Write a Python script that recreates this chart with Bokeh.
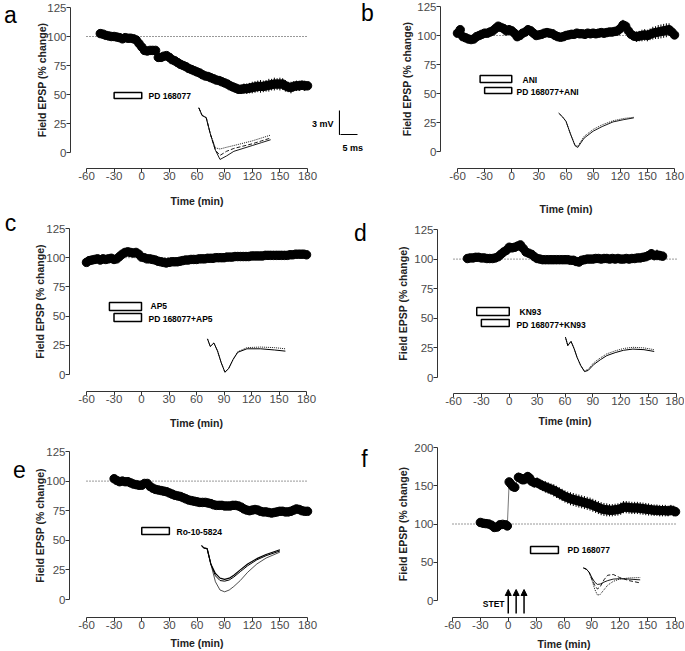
from bokeh.plotting import figure
from bokeh.layouts import column, row
from bokeh.models import Range1d, Label, Arrow, NormalHead, FixedTicker
from bokeh.embed import file_html
from bokeh.resources import INLINE

# ---------------- data ----------------
XTICKS = [-60, -30, 0, 30, 60, 90, 120, 150, 180]
YTICKS_125 = [0, 25, 50, 75, 100, 125]
YTICKS_200 = [0, 50, 100, 150, 200]
BASE_T = [-60, 180]
BASE_LEVEL = 100

# panel a : PD 168077
a_time = [-45, -42, -39, -36, -33, -30, -27, -24, -21, -18,
          -15, -12, -9, -6, -3, 0, 3, 6, 9, 12,
          15, 18, 21, 24, 27, 30, 33, 36, 39, 42,
          45, 48, 51, 54, 57, 60, 63, 66, 69, 72,
          75, 78, 81, 84, 87, 90, 93, 96, 99, 102,
          105, 108, 111, 114, 117, 120, 123, 126, 129, 132,
          135, 138, 141, 144, 147, 150, 153, 156, 159, 162,
          165, 168, 171, 174, 177, 180]
a_epsp = [102.5, 102, 101, 100.5, 100, 100, 99.5, 99, 98, 99,
          98.5, 98.5, 98, 97, 94, 91, 88, 87.5, 88, 88,
          88, 82, 82, 83, 83.5, 82, 80, 79, 77.5, 76,
          75, 74, 72.5, 71.5, 70.5, 69.5, 68.5, 67, 66, 65.5,
          64.5, 63.5, 62.5, 62, 61, 60, 59, 57.5, 56.5, 55.5,
          54.5, 54.5, 55, 55, 55.5, 56, 56.5, 57, 57, 57,
          57.5, 58, 58.5, 59, 59, 59, 59, 57.5, 56.5, 56,
          57, 57.5, 57.5, 58, 57.5, 57.5]
a_sem = [1.5, 1.5, 1.5, 1.5, 1.5, 1.5, 1.5, 1.5, 1.5, 1.5,
         1.5, 1.5, 1.5, 1.5, 2, 2, 2, 2, 2, 2,
         2, 2, 2, 2, 2, 2, 2, 2, 2, 2,
         2.5, 2.5, 2.5, 2.5, 2.5, 2.5, 2.5, 3, 3, 3,
         3, 3, 3, 3, 3, 3.5, 3.5, 3.5, 3.5, 4,
         4, 4, 4.5, 4.5, 4.5, 5, 5, 5, 5.5, 5,
         5, 5.5, 5, 5.5, 5, 5.5, 5, 5, 4.5, 5,
         4.5, 4.5, 4.5, 4, 4.5, 3.5]

# panel b : ANI / PD 168077+ANI
b_time = [-60, -57, -54, -51, -48, -45, -42, -39, -36, -33,
          -30, -27, -24, -21, -18, -15, -12, -9, -6, -3,
          0, 3, 6, 9, 12, 15, 18, 21, 24, 27,
          30, 33, 36, 39, 42, 45, 48, 51, 54, 57,
          60, 63, 66, 69, 72, 75, 78, 81, 84, 87,
          90, 93, 96, 99, 102, 105, 108, 111, 114, 117,
          120, 123, 126, 129, 132, 135, 138, 141, 144, 147,
          150, 153, 156, 159, 162, 165, 168, 171, 174, 177,
          180]
b_epsp = [102, 105, 99, 98, 97, 96.5, 97, 99, 100, 101,
          102, 102, 103, 104, 106, 108, 107, 106, 104, 105,
          104, 102, 99, 100, 102, 103, 105, 104, 102, 100,
          100.5, 101, 102, 102.5, 102, 101.5, 100, 99, 98.5, 99,
          100, 100.5, 101, 101, 102, 101.5, 101.5, 101, 102, 101.5,
          102, 101.5, 102, 102.5, 102, 102.5, 103, 103, 103.5, 104,
          106, 109, 108, 104, 101, 99.5, 99, 99.5, 100, 100.5,
          100, 101, 102, 102.5, 103, 103.5, 104, 104.5, 105, 103,
          100.5]
b_sem = [1.5, 1.5, 1.5, 1.5, 1.5, 1.5, 1.5, 1.5, 1.5, 1.5,
         2, 2, 2, 2, 2.5, 3, 3, 3, 2.5, 2.5,
         2.5, 2.5, 2.5, 2.5, 2.5, 2.5, 2.5, 2.5, 2.5, 2.5,
         2.5, 2.5, 2.5, 2.5, 2.5, 2.5, 2.5, 2.5, 2.5, 2.5,
         3, 3, 3, 3, 3, 3, 3, 3, 3, 3,
         3, 3, 3, 3, 3.5, 3.5, 3.5, 3.5, 3.5, 4,
         4, 4.5, 4.5, 4, 4, 4, 4.5, 4.5, 5, 5,
         5, 5, 5.5, 5.5, 6, 6, 6, 6, 5.5, 5,
         3]

# panel c : AP5 / PD 168077+AP5
c_time = [-60, -57, -54, -51, -48, -45, -42, -39, -36, -33,
          -30, -27, -24, -21, -18, -15, -12, -9, -6, -3,
          0, 3, 6, 9, 12, 15, 18, 21, 24, 27,
          30, 33, 36, 39, 42, 45, 48, 51, 54, 57,
          60, 63, 66, 69, 72, 75, 78, 81, 84, 87,
          90, 93, 96, 99, 102, 105, 108, 111, 114, 117,
          120, 123, 126, 129, 132, 135, 138, 141, 144, 147,
          150, 153, 156, 159, 162, 165, 168, 171, 174, 177,
          180]
c_epsp = [96, 97.5, 98, 98.5, 99, 98, 99, 98.5, 99, 99.5,
          98.5, 99, 101, 103, 104.5, 105, 104.5, 104, 104.5, 103,
          100.5, 100, 99, 99, 98.5, 98, 97, 96.5, 96, 95.5,
          96, 96.5, 96.5, 96.5, 97, 97.5, 98, 98, 98.5, 98.5,
          98.5, 99, 99, 99, 99.5, 99.5, 99.5, 100, 100, 100,
          100, 100.5, 100.5, 100.5, 101, 101, 101, 101, 101, 101,
          101.5, 101.5, 101.5, 101.5, 101.5, 102, 102, 102, 102, 102,
          102, 102, 102, 102, 102.5, 102.5, 103, 103, 103, 103,
          102.5]
c_sem = [1.5, 1.5, 1.5, 1.5, 1.5, 1.5, 1.5, 1.5, 1.5, 1.5,
         1.5, 1.5, 1.5, 2, 2, 2, 2, 2, 2, 2,
         1.5, 1.5, 1.5, 1.5, 1.5, 1.5, 1.5, 1.5, 1.5, 1.5,
         1.5, 1.5, 1.5, 1.5, 1.5, 1.5, 1.5, 1.5, 1.5, 1.5,
         1.5, 1.5, 1.5, 1.5, 1.5, 1.5, 1.5, 1.5, 1.5, 1.5,
         2, 2, 2, 2, 2, 2, 2, 2, 2, 2,
         2, 2, 2, 2, 2, 2, 2, 2, 2, 2,
         2, 2, 2.5, 2.5, 2.5, 2.5, 2.5, 2.5, 2.5, 2.5,
         2]

# panel d : KN93 / PD 168077+KN93
d_time = [-45, -42, -39, -36, -33, -30, -27, -24, -21, -18,
          -15, -12, -9, -6, -3, 0, 3, 6, 9, 12,
          15, 18, 21, 24, 27, 30, 33, 36, 39, 42,
          45, 48, 51, 54, 57, 60, 63, 66, 69, 72,
          75, 78, 81, 84, 87, 90, 93, 96, 99, 102,
          105, 108, 111, 114, 117, 120, 123, 126, 129, 132,
          135, 138, 141, 144, 147, 150, 153, 156, 159, 162,
          165]
d_epsp = [100.5, 101, 101, 101.5, 101.5, 101, 101, 100.5, 100.5, 100.5,
          101, 102, 104, 106, 107.5, 110, 109.5, 110, 111, 112,
          109, 106, 105, 104, 102, 100.5, 100, 99.5, 99.5, 99.5,
          99.5, 99.5, 99.5, 99.5, 99.5, 99.5, 99.5, 99, 99, 98,
          97.5, 99, 99.5, 100, 100, 100, 100.5, 100.5, 100, 100.5,
          100.5, 100, 100.5, 100, 100.5, 100, 100, 100.5, 100, 100.5,
          100.5, 101, 101, 101.5, 102, 103, 104.5, 103, 103.5, 103,
          102.5]
d_sem = [1.5, 1.5, 1.5, 1.5, 1.5, 1.5, 1.5, 1.5, 1.5, 1.5,
         1.5, 2, 2, 2.5, 2.5, 2.5, 2.5, 2.5, 2.5, 2.5,
         2.5, 2.5, 2, 2, 2, 1.5, 1.5, 1.5, 1.5, 1.5,
         1.5, 1.5, 1.5, 1.5, 1.5, 1.5, 1.5, 1.5, 1.5, 1.5,
         1.5, 1.5, 1.5, 1.5, 1.5, 1.5, 1.5, 1.5, 1.5, 1.5,
         1.5, 1.5, 1.5, 1.5, 1.5, 1.5, 1.5, 1.5, 1.5, 1.5,
         1.5, 2, 2, 2, 2.5, 3, 4, 4, 4.5, 4,
         3.5]

# panel e : Ro-10-5824
e_time = [-30, -27, -24, -21, -18, -15, -12, -9, -6, -3,
          0, 3, 6, 9, 12, 15, 18, 21, 24, 27,
          30, 33, 36, 39, 42, 45, 48, 51, 54, 57,
          60, 63, 66, 69, 72, 75, 78, 81, 84, 87,
          90, 93, 96, 99, 102, 105, 108, 111, 114, 117,
          120, 123, 126, 129, 132, 135, 138, 141, 144, 147,
          150, 153, 156, 159, 162, 165, 168, 171, 174, 177,
          180]
e_epsp = [102, 100.5, 99.5, 100, 99.5, 99.5, 98.5, 97.5, 97, 96.5,
          96.5, 98, 98, 95.5, 94, 93, 92.5, 92, 91.5, 91,
          90, 89, 88, 87.5, 87, 86, 85, 84, 83.5, 83,
          82.5, 82, 82, 82, 81.5, 81, 80, 79.5, 79.5, 79.5,
          79, 79, 79, 79.5, 79.5, 79, 78, 76.5, 75.5, 75,
          75.5, 76, 75.5, 74.5, 74, 74, 73.5, 73, 73.5, 74,
          74.5, 74.5, 74, 74, 74.5, 75.5, 76.5, 76, 75, 74.5,
          74.5]
e_sem = [1.5, 1.5, 1.5, 1.5, 1.5, 1.5, 1.5, 1.5, 1.5, 1.5,
         1.5, 1.5, 1.5, 1.5, 1.5, 1.5, 1.5, 1.5, 1.5, 1.5,
         2, 2, 2, 2, 2, 2, 2, 2, 2, 2,
         2, 2, 2, 2, 2, 2, 2, 2, 2, 2,
         2, 2, 2, 2, 2, 2, 2, 2, 2, 2,
         2, 2, 2, 2, 2, 2, 2, 2, 2, 2,
         2, 2, 2, 2, 2, 2, 2, 2, 2, 2,
         1.5]

# panel f : STET + PD 168077
f_time = [-30, -27, -24, -21, -18, -15, -12, -9, -6, -3,
          -1, 1, 3, 5, 7, 11, 13, 15, 17, 19,
          21, 23, 25, 28, 31, 34, 37, 40, 43, 46,
          49, 52, 55, 58, 61, 64, 67, 70, 73, 76,
          79, 82, 85, 88, 91, 94, 97, 100, 103, 106,
          109, 112, 115, 118, 121, 124, 127, 130, 133, 136,
          139, 142, 145, 148, 151, 154, 157, 160, 163, 166,
          169, 172, 175, 178, 180]
f_epsp = [102, 101, 100.5, 100, 98.5, 95.5, 96, 99, 99.5, 99,
          97.5, 155, 152, 149, 148, 161, 160, 158, 158, 160,
          162, 160, 156, 154, 154, 152, 150, 148.5, 147, 145.5,
          144, 142, 140, 138, 136, 134.5, 133, 132, 131, 130,
          129, 128, 127, 126, 124.5, 123, 121.5, 120, 119, 118.5,
          118, 118, 118.5, 119, 120, 122, 122, 121.5, 121, 121,
          121, 120.5, 120, 119.5, 119, 118.5, 118, 118, 117.5, 117.5,
          117.5, 117, 118, 117, 116]
f_sem = [2, 2, 2, 2, 2, 2.5, 2.5, 2, 2, 2,
         2, 5, 5, 5, 5, 6, 6, 6, 6, 6,
         6, 6, 6.5, 6.5, 7, 7, 7, 7.5, 7.5, 7.5,
         8, 8, 8, 8, 8, 8, 8.5, 8.5, 8.5, 8.5,
         8.5, 8.5, 8.5, 8.5, 8.5, 8.5, 8.5, 8.5, 8.5, 8.5,
         8, 8, 8, 8, 8, 8, 8, 8, 8, 8,
         8, 8, 8, 8, 8, 7.5, 7.5, 7.5, 7.5, 7.5,
         7.5, 7, 7, 7, 4]
f_stet_times = [0, 8.5, 17]

# drug application periods (min)
a_drugs = [("PD 168077", -30, 0)]
b_drugs = [("ANI", -35, 0), ("PD 168077+ANI", -30, 0)]
c_drugs = [("AP5", -35, 0), ("PD 168077+AP5", -30, 0)]
d_drugs = [("KN93", -35, 0), ("PD 168077+KN93", -30, 0)]
e_drugs = [("Ro-10-5824", 0, 30)]
f_drugs = [("PD 168077", 24, 54)]

# example fEPSP traces (inset, drawn in the panel's own units)
a_trace_t = [62, 65.5, 70, 74.5, 80, 85, 92, 100, 110, 120, 130, 140]
a_trace_1 = [38.5, 32, 30, 16, 2, -6, -3, 1, 3.5, 6, 8.5, 11]
a_trace_2 = [38.5, 32, 30, 16, 2, -2.5, 1, 3.5, 5.5, 7.5, 10, 12.5]
a_trace_3 = [38.5, 32, 30, 16, 4, 3, 4.5, 6, 8, 10, 12.5, 15]

b_trace_t = [52, 56, 60, 65, 70, 73, 80, 90, 100, 112, 124, 135]
b_trace_1 = [33, 30, 26, 15, 5, 3.5, 11.5, 17.5, 21.5, 25.5, 27.5, 29]
b_trace_2 = [33, 30, 26, 15, 5.5, 4.5, 13, 19, 23, 26.5, 28.5, 29.5]

c_trace_t = [72, 75, 79, 83, 87, 91, 95, 100, 105, 115, 130, 145, 157]
c_trace_1 = [30.5, 24, 27, 20, 10, 2, 5, 13, 19, 22, 22, 21, 20]
c_trace_2 = [30.5, 24, 27, 20, 10, 2, 5, 13, 19.5, 23, 23.5, 23, 22]

d_trace_t = [60.5, 63, 66.5, 70, 73, 77, 81, 85, 91, 98, 105, 114, 123, 133, 145, 156]
d_trace_1 = [34, 27, 30.5, 24, 17, 10, 5, 6, 11, 15, 18.5, 21, 23, 24, 23.5, 22]
d_trace_2 = [34, 27, 30.5, 24, 17, 10, 5.5, 7, 12.5, 16.5, 20, 22.5, 24.5, 25.5, 25, 23.5]

e_trace_t = [65, 67.5, 71, 75, 80, 85, 90, 95, 100, 107, 115, 125, 135, 150]
e_trace_1 = [45.5, 43.5, 43, 30, 22, 18, 17, 18, 20.5, 25, 30, 34.5, 38, 42]
e_trace_2 = [45.5, 43.5, 43, 30, 20, 16, 15.5, 16.5, 19, 23.5, 28.5, 33.5, 37, 41]
e_trace_3 = [45.5, 43.5, 43, 30, 15, 8, 6.5, 8, 11, 16, 23, 30, 35, 40]

f_trace_t = [81, 84, 87, 90, 93, 96, 99, 103, 107, 113, 120, 130, 142]
f_trace_1 = [42.5, 41, 37, 30, 24, 21, 21.5, 24, 26, 28, 28.5, 28, 27]
f_trace_2 = [42.5, 41, 37, 28, 20, 15, 18, 27, 33, 34, 30, 26, 23]
f_trace_3 = [42.5, 41, 37, 27, 15, 7, 8, 14, 20, 25, 28, 29.5, 30]

# ---------------- layout helpers ----------------
FONT = "Liberation Sans"


def make_panel(fig_box, axes_px, xcal, ycal, yticks, xlab_standoff, ylab_standoff):
    """fig_box: figure box in page px; axes_px: (x of y-axis, y of x-axis);
    xcal / ycal: two (pixel, value) calibration pairs."""
    fx0, fy0, fx1, fy1 = fig_box
    ax_x, ax_y = axes_px
    (xp0, xv0), (xp1, xv1) = xcal
    (yp0, yv0), (yp1, yv1) = ycal
    sx = (xp1 - xp0) / (xv1 - xv0)
    sy = (yp0 - yp1) / (yv1 - yv0)

    def X(px):
        return xv0 + (px - xp0) / sx

    def Y(py):
        return yv0 + (yp0 - py) / sy

    p = figure(width=fx1 - fx0, height=fy1 - fy0,
               x_range=Range1d(X(fx0), X(fx1)), y_range=Range1d(Y(fy1), Y(fy0)),
               min_border_left=0, min_border_right=0, min_border_top=0, min_border_bottom=0,
               output_backend="svg", toolbar_location=None)
    p.xgrid.visible = False
    p.ygrid.visible = False
    p.outline_line_color = None
    p.background_fill_color = "white"
    p.border_fill_color = "white"
    p.xaxis.fixed_location = Y(ax_y)
    p.yaxis.fixed_location = X(ax_x)
    p.xaxis.bounds = (XTICKS[0], XTICKS[-1])
    p.xaxis.ticker = FixedTicker(ticks=XTICKS)
    p.xaxis.major_label_overrides = {t: str(t) for t in XTICKS}
    p.yaxis.bounds = (yticks[0], yticks[-1])
    p.yaxis.ticker = FixedTicker(ticks=yticks)
    p.yaxis.major_label_overrides = {t: str(t) for t in yticks}
    for ax in (p.xaxis[0], p.yaxis[0]):
        ax.axis_line_color = "#333333"
        ax.axis_line_width = 1
        ax.major_tick_line_color = "#333333"
        ax.minor_tick_line_color = None
        ax.major_tick_in = 0
        ax.major_tick_out = 4
        ax.major_label_text_font = FONT
        ax.major_label_text_font_size = "11.5px"
        ax.major_label_text_color = "#4a4a4a"
        ax.axis_label_text_font = FONT
        ax.axis_label_text_font_style = "bold"
        ax.axis_label_text_color = "#222222"
    p.xaxis.major_label_standoff = -1
    p.yaxis.major_label_standoff = 0
    p.xaxis.axis_label = "Time (min)"
    p.xaxis.axis_label_text_font_size = "10.5px"
    p.xaxis.axis_label_standoff = xlab_standoff
    p.yaxis.axis_label = "Field EPSP (% change)"
    p.yaxis.axis_label_text_font_size = "10.5px"
    p.yaxis.axis_label_standoff = ylab_standoff
    return p, X, Y


def text(p, x, y, s, size="8.5px", bold=True, align="left"):
    p.add_layout(Label(x=x, y=y, text=s, text_font=FONT, text_font_size=size,
                       text_font_style="bold" if bold else "normal",
                       text_color="black", text_align=align, text_baseline="middle"))


def letter(p, X, Y, px, py, s):
    p.add_layout(Label(x=X(px), y=Y(py), text=s, text_font=FONT, text_font_size="23px",
                       text_color="black", text_align="center", text_baseline="middle"))


def series(p, t, v, sem):
    p.line(BASE_T, [BASE_LEVEL, BASE_LEVEL], line_color="#333333", line_width=1,
           line_dash="1 2")
    p.segment(x0=t, y0=[a - b for a, b in zip(v, sem)], x1=t,
              y1=[a + b for a, b in zip(v, sem)], line_color="black", line_width=1)
    p.line(t, v, line_color="#777777", line_width=1)
    p.scatter(t, v, size=8.5, fill_color="black", line_color="black")


def bars(p, X, Y, drugs, boxes, labels):
    for (name, t0, t1), (ptop, pbot), (lx, ly) in zip(drugs, boxes, labels):
        p.quad(left=[t0], right=[t1], bottom=[Y(pbot)], top=[Y(ptop)],
               fill_color="white", line_color="black", line_width=1.5)
        text(p, X(lx), Y(ly), name)


def traces(p, t, ys, styles):
    for y, (dash, w) in zip(ys, styles):
        p.line(t, y, line_color="black", line_width=w, line_dash=dash)


# ---------------- panel a ----------------
pa, Xa, Ya = make_panel((0, 0, 340, 207), (70, 168),
                        ((86, -60), (307, 180)), ((152, 0), (7, 125)), YTICKS_125, 12, -4)
series(pa, a_time, a_epsp, a_sem)
bars(pa, Xa, Ya, a_drugs, [(92, 98)], [(148, 95)])
traces(pa, a_trace_t, [a_trace_1, a_trace_2, a_trace_3],
       [("solid", 0.9), ("4 2", 0.9), ("1 1", 0.9)])
# scale bar 3 mV / 5 ms (left part)
pa.line([Xa(339), Xa(339), Xa(342)], [Ya(110), Ya(134), Ya(134)],
        line_color="black", line_width=1.2)
text(pa, Xa(333), Ya(123), "3 mV", size="9px", align="right")
letter(pa, Xa, Ya, 10, 14, "a")

# ---------------- panel b ----------------
pb, Xb, Yb = make_panel((340, 0, 684, 215), (440, 168),
                        ((457, -60), (674, 180)), ((151, 0), (6, 125)), YTICKS_125, 20, 1)
series(pb, b_time, b_epsp, b_sem)
bars(pb, Xb, Yb, b_drugs, [(75, 82), (87, 93)], [(522, 79), (516, 91)])
traces(pb, b_trace_t, [b_trace_1, b_trace_2], [("solid", 0.9), ("1 1", 0.9)])
# scale bar (right part)
pb.line([Xb(338), Xb(357)], [Yb(134), Yb(134)], line_color="black", line_width=1.2)
text(pb, Xb(342), Yb(147), "5 ms", size="9px")
letter(pb, Xb, Yb, 367, 12, "b")

# ---------------- panel c ----------------
pc, Xc, Yc = make_panel((0, 207, 340, 430), (69, 391),
                        ((86, -60), (306, 180)), ((374, 0), (228, 125)), YTICKS_125, 11, -3)
series(pc, c_time, c_epsp, c_sem)
bars(pc, Xc, Yc, c_drugs, [(302, 310), (313, 321)], [(150, 305), (148, 318)])
traces(pc, c_trace_t, [c_trace_1, c_trace_2], [("solid", 1), ("1 1", 0.9)])
letter(pc, Xc, Yc, 10, 222, "c")

# ---------------- panel d ----------------
pd_, Xd, Yd = make_panel((340, 215, 684, 430), (437, 393),
                         ((453, -60), (676, 180)), ((377, 0), (229, 125)), YTICKS_125, 7, 2)
series(pd_, d_time, d_epsp, d_sem)
bars(pd_, Xd, Yd, d_drugs, [(307, 315), (319, 326)], [(519, 311), (516, 324)])
traces(pd_, d_trace_t, [d_trace_1, d_trace_2], [("solid", 1), ("1 1", 0.9)])
letter(pd_, Xd, Yd, 360, 232, "d")

# ---------------- panel e ----------------
pe, Xe, Ye = make_panel((0, 430, 340, 650), (69, 617),
                        ((86, -60), (307, 180)), ((599, 0), (451, 125)), YTICKS_125, 5, -3)
series(pe, e_time, e_epsp, e_sem)
bars(pe, Xe, Ye, e_drugs, [(527, 534)], [(176, 531)])
traces(pe, e_trace_t, [e_trace_1, e_trace_2, e_trace_3],
       [("solid", 1.2), ("solid", 1), ("solid", 0.7)])
letter(pe, Xe, Ye, 19, 469, "e")

# ---------------- panel f ----------------
pf, Xf, Yf = make_panel((340, 430, 684, 650), (437, 617),
                        ((452, -60), (675, 180)), ((600, 0), (447, 200)), YTICKS_200, 6, 2)
series(pf, f_time, f_epsp, f_sem)
bars(pf, Xf, Yf, f_drugs, [(546, 553)], [(567, 549)])
traces(pf, f_trace_t, [f_trace_1, f_trace_2, f_trace_3],
       [("solid", 0.9), ("4 2", 0.9), ("1 1", 0.9)])
for t in f_stet_times:
    pf.add_layout(Arrow(end=NormalHead(size=6, fill_color="black", line_color="black"),
                        x_start=t, y_start=Yf(613), x_end=t, y_end=Yf(589),
                        line_color="black", line_width=1.5))
text(pf, Xf(504), Yf(603), "STET", align="right")
letter(pf, Xf, Yf, 364, 458, "f")

layout = row(column(pa, pc, pe), column(pb, pd_, pf))
open("out.html", "w").write(file_html(layout, INLINE))
